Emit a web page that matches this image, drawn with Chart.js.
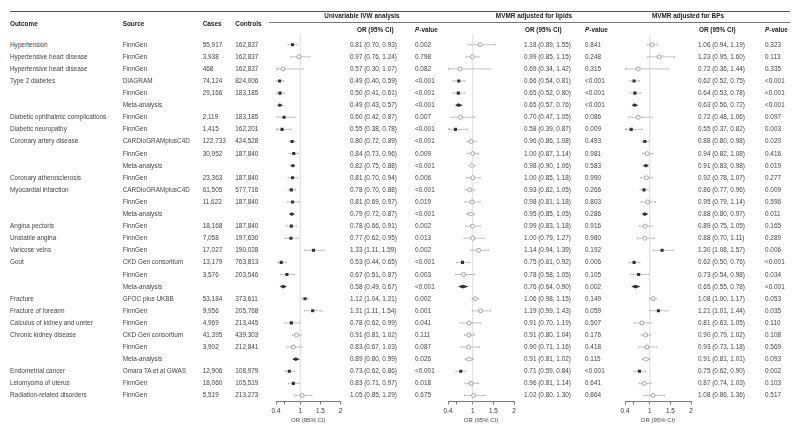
<!DOCTYPE html>
<html>
<head>
<meta charset="utf-8">
<script src="https://cdn.jsdelivr.net/npm/chart.js@4.4.1/dist/chart.umd.min.js"></script>
<style>
  body { margin: 0; background: #fff; }
  #wrap { position: relative; width: 800px; height: 433px; overflow: hidden;
          font-family: "Liberation Sans", Arial, sans-serif; color: #444; }
  .t { position: absolute; font-size: 6.4px; line-height: 8px; white-space: nowrap; }
  .h { font-weight: bold; color: #222; }
  .c { transform: translateX(-50%); }
  .rule { position: absolute; background: #555; }
  canvas { position: absolute; top: 0; }
</style>
</head>
<body>
<div id="wrap"></div>
<script>
// ---- data ----
const outcomes = ['Hypertension', 'Hypertensive heart disease', 'Hypertensive heart disease', 'Type 2 diabetes', '', '',
  'Diabetic ophthalmic complications', 'Diabetic neuropathy', 'Coronary artery disease', '', '',
  'Coronary atherosclerosis', 'Myocardial infarction', '', '', 'Angina pectoris', 'Unstable angina',
  'Varicose veins', 'Gout', '', '', 'Fracture', 'Fracture of forearm', 'Calculus of kidney and ureter',
  'Chronic kidney disease', '', '', 'Endometrial cancer', 'Leiomyoma of uterus', 'Radiation-related disorders'];
const sources = ['FinnGen', 'FinnGen', 'FinnGen', 'DIAGRAM', 'FinnGen', 'Meta-analysis',
  'FinnGen', 'FinnGen', 'CARDIoGRAMplusC4D', 'FinnGen', 'Meta-analysis',
  'FinnGen', 'CARDIoGRAMplusC4D', 'FinnGen', 'Meta-analysis', 'FinnGen', 'FinnGen',
  'FinnGen', 'CKD Gen consortium', 'FinnGen', 'Meta-analysis', 'GFOC plus UKBB', 'FinnGen', 'FinnGen',
  'CKD Gen consortium', 'FinnGen', 'Meta-analysis', 'Omara TA et al GWAS', 'FinnGen', 'FinnGen'];
const cases = ['55,917', '3,938', '468', '74,124', '29,166', '', '2,119', '1,415', '122,733', '30,952', '',
  '23,363', '61,505', '11,622', '', '18,168', '7,058', '17,027', '13,179', '3,576', '', '53,184', '9,956',
  '4,969', '41,395', '3,902', '', '12,906', '18,060', '5,519'];
const controls = ['162,837', '162,837', '162,837', '824,006', '183,185', '', '183,185', '162,201', '424,528',
  '187,840', '', '187,840', '577,716', '187,840', '', '187,840', '197,630', '190,028', '763,813', '203,546', '',
  '373,611', '205,768', '213,445', '439,303', '212,841', '', '108,979', '105,519', '213,273'];

const uniOR = [0.81, 0.97, 0.57, 0.49, 0.50, 0.49, 0.60, 0.55, 0.80, 0.84, 0.82, 0.81, 0.78, 0.81, 0.79,
  0.78, 0.77, 1.33, 0.53, 0.67, 0.58, 1.12, 1.31, 0.78, 0.91, 0.83, 0.89, 0.73, 0.83, 1.05];
const uniLo = [0.70, 0.76, 0.30, 0.40, 0.41, 0.43, 0.42, 0.38, 0.72, 0.73, 0.75, 0.70, 0.70, 0.69, 0.72,
  0.66, 0.62, 1.11, 0.44, 0.51, 0.49, 1.04, 1.11, 0.62, 0.81, 0.67, 0.80, 0.62, 0.71, 0.85];
const uniHi = [0.93, 1.24, 1.07, 0.59, 0.61, 0.57, 0.87, 0.78, 0.89, 0.96, 0.88, 0.94, 0.88, 0.97, 0.87,
  0.91, 0.95, 1.59, 0.65, 0.87, 0.67, 1.21, 1.54, 0.99, 1.02, 1.03, 0.99, 0.86, 0.97, 1.29];
const uniP = ['0.002', '0.798', '0.082', '<0.001', '<0.001', '<0.001', '0.007', '<0.001', '<0.001', '0.009',
  '<0.001', '0.006', '<0.001', '0.019', '<0.001', '0.002', '0.013', '0.002', '<0.001', '0.003', '<0.001',
  '0.002', '0.001', '0.041', '0.111', '0.087', '0.026', '<0.001', '0.018', '0.675'];

const lipOR = [1.18, 0.99, 0.69, 0.66, 0.65, 0.65, 0.70, 0.58, 0.96, 1.00, 0.98, 1.00, 0.93, 0.98, 0.95,
  0.99, 1.00, 1.14, 0.75, 0.78, 0.76, 1.06, 1.19, 0.91, 0.91, 0.90, 0.91, 0.71, 0.96, 1.02];
const lipLo = [0.89, 0.85, 0.34, 0.54, 0.52, 0.57, 0.47, 0.39, 0.86, 0.87, 0.90, 0.85, 0.82, 0.81, 0.85,
  0.83, 0.79, 0.94, 0.61, 0.58, 0.64, 0.98, 0.99, 0.70, 0.80, 0.71, 0.81, 0.59, 0.81, 0.80];
const lipHi = [1.55, 1.15, 1.42, 0.81, 0.80, 0.76, 1.05, 0.87, 1.08, 1.14, 1.06, 1.18, 1.05, 1.18, 1.05,
  1.18, 1.27, 1.39, 0.92, 1.05, 0.90, 1.15, 1.43, 1.19, 1.04, 1.16, 1.02, 0.84, 1.14, 1.30];
const lipP = ['0.841', '0.248', '0.315', '<0.001', '<0.001', '<0.001', '0.086', '0.009', '0.493', '0.981',
  '0.583', '0.990', '0.266', '0.803', '0.286', '0.916', '0.980', '0.192', '0.006', '0.105', '0.002',
  '0.149', '0.059', '0.507', '0.176', '0.418', '0.115', '<0.001', '0.641', '0.864'];

const bpOR = [1.06, 1.23, 0.72, 0.62, 0.64, 0.63, 0.72, 0.55, 0.88, 0.94, 0.91, 0.92, 0.86, 0.95, 0.88,
  0.89, 0.88, 1.30, 0.62, 0.73, 0.65, 1.08, 1.21, 0.81, 0.90, 0.93, 0.91, 0.75, 0.87, 1.08];
const bpLo = [0.94, 0.95, 0.36, 0.52, 0.53, 0.56, 0.48, 0.37, 0.80, 0.82, 0.83, 0.78, 0.77, 0.79, 0.80,
  0.75, 0.70, 1.08, 0.50, 0.54, 0.55, 1.00, 1.01, 0.63, 0.79, 0.73, 0.81, 0.62, 0.74, 0.86];
const bpHi = [1.19, 1.60, 1.44, 0.75, 0.78, 0.72, 1.06, 0.82, 0.98, 1.08, 0.98, 1.07, 0.96, 1.14, 0.97,
  1.05, 1.11, 1.57, 0.76, 0.98, 0.78, 1.17, 1.44, 1.05, 1.02, 1.18, 1.01, 0.90, 1.03, 1.36];
const bpP = ['0.323', '0.113', '0.335', '<0.001', '<0.001', '<0.001', '0.097', '0.003', '0.020', '0.416',
  '0.019', '0.277', '0.009', '0.596', '0.011', '0.165', '0.289', '0.006', '<0.001', '0.034', '<0.001',
  '0.053', '0.035', '0.110', '0.108', '0.569', '0.093', '0.002', '0.103', '0.517'];

const tickValues = [0.4, 0.6, 1, 1.5, 2];
const tickLabels = ['0.4', '', '1', '1.5', '2'];

// ---- layout ----
const FONT = '"Liberation Sans", Arial, sans-serif';
const ROW0 = 44.7, ROWH = 12.095;
const rowY = i => ROW0 + i * ROWH;
const isMeta = i => sources[i] === 'Meta-analysis';
const isSig = p => p.startsWith('<') || parseFloat(p) < 0.05;

const panels = [
  { title: 'Univariable IVW analysis', titleX: 362, left: 276, width: 64.5, orX: 350, orHdrX: 357, pX: 415,
    or: uniOR, lo: uniLo, hi: uniHi, p: uniP },
  { title: 'MVMR adjusted for lipids', titleX: 534, left: 448, width: 66, orX: 524, orHdrX: 525, pX: 585,
    or: lipOR, lo: lipLo, hi: lipHi, p: lipP },
  { title: 'MVMR adjusted for BPs', titleX: 688, left: 625, width: 66, orX: 698, orHdrX: 699, pX: 765,
    or: bpOR, lo: bpLo, hi: bpHi, p: bpP }
];

const wrap = document.getElementById('wrap');
function addText(txt, x, y, cls) {
  const d = document.createElement('div');
  d.className = 't' + (cls ? ' ' + cls : '');
  d.style.left = x + 'px';
  d.style.top = (y - 4) + 'px';
  d.innerHTML = txt;
  wrap.appendChild(d);
}
function addRule(x, y, w, h, color) {
  const d = document.createElement('div');
  d.className = 'rule';
  d.style.left = x + 'px'; d.style.top = y + 'px';
  d.style.width = w + 'px'; d.style.height = h + 'px';
  d.style.background = color;
  wrap.appendChild(d);
}

// header
addRule(10, 10.5, 780, 1.5, '#555');
addRule(269, 21.5, 521, 0.8, '#777');
addText('Outcome', 10, 24, 'h');
addText('Source', 122.7, 24, 'h');
addText('Cases', 202.7, 24, 'h');
addText('Controls', 235.3, 24, 'h');
panels.forEach(pn => {
  addText(pn.title, pn.titleX, 16, 'h c');
  addText('OR (95% CI)', pn.orHdrX, 29.5, 'h');
  addText('<i>P</i>-value', pn.pX, 29.5, 'h');
});

// table body
outcomes.forEach((o, i) => {
  const y = rowY(i);
  if (o) addText(o, 10, y);
  addText(sources[i], 122.7, y);
  if (cases[i]) addText(cases[i], 202.7, y);
  if (controls[i]) addText(controls[i], 235.3, y);
  panels.forEach(pn => {
    const f = v => v.toFixed(2);
    addText(`${f(pn.or[i])} (${f(pn.lo[i])}, ${f(pn.hi[i])})`, pn.orX, y);
    addText(pn.p[i], pn.pX, y);
  });
});

// whiskers, reference line and meta diamonds
const forestPlugin = {
  id: 'forest',
  beforeDatasetsDraw(chart) {
    const { ctx, chartArea, scales: { x, y } } = chart;
    const pn = chart.options.plugins.forest.panel;
    ctx.save();
    const x1 = x.getPixelForValue(1);
    ctx.strokeStyle = '#d2d2d2';
    ctx.lineWidth = 0.8;
    ctx.beginPath();
    ctx.moveTo(x1, chartArea.top - 4);
    ctx.lineTo(x1, chartArea.bottom);
    ctx.stroke();

    ctx.strokeStyle = '#b4b4b4';
    ctx.lineWidth = 0.8;
    pn.or.forEach((v, i) => {
      if (isMeta(i)) return;
      const yy = y.getPixelForValue(i);
      const xa = x.getPixelForValue(Math.max(pn.lo[i], x.min));
      const xb = x.getPixelForValue(Math.min(pn.hi[i], x.max));
      ctx.beginPath();
      ctx.moveTo(xa, yy); ctx.lineTo(xb, yy);
      if (pn.lo[i] >= x.min) { ctx.moveTo(xa, yy - 1); ctx.lineTo(xa, yy + 1); }
      else { ctx.moveTo(xa + 2, yy - 1.3); ctx.lineTo(xa, yy); ctx.lineTo(xa + 2, yy + 1.3); }
      ctx.moveTo(xb, yy - 1); ctx.lineTo(xb, yy + 1);
      ctx.stroke();
    });
    ctx.restore();
  },
  afterDatasetsDraw(chart) {
    const { ctx, scales: { x, y } } = chart;
    const pn = chart.options.plugins.forest.panel;
    ctx.save();
    pn.or.forEach((v, i) => {
      if (!isMeta(i)) return;
      const yy = y.getPixelForValue(i);
      const xa = x.getPixelForValue(pn.lo[i]);
      const xm = x.getPixelForValue(v);
      const xb = x.getPixelForValue(pn.hi[i]);
      ctx.beginPath();
      ctx.moveTo(xa, yy); ctx.lineTo(xm, yy - 1.9); ctx.lineTo(xb, yy); ctx.lineTo(xm, yy + 1.9);
      ctx.closePath();
      if (isSig(pn.p[i])) {
        ctx.fillStyle = '#333'; ctx.fill();
      } else {
        ctx.fillStyle = '#fff'; ctx.fill();
        ctx.strokeStyle = '#999'; ctx.lineWidth = 0.8; ctx.stroke();
      }
    });
    ctx.restore();
  }
};

const PAD = 10;
panels.forEach(pn => {
  const cv = document.createElement('canvas');
  const w = Math.round(pn.width + 2 * PAD);
  cv.width = w; cv.height = 433;
  cv.style.left = (pn.left - PAD) + 'px';
  cv.style.width = w + 'px'; cv.style.height = '433px';
  wrap.insertBefore(cv, wrap.firstChild);

  const sig = pn.p.map(isSig);
  new Chart(cv.getContext('2d'), {
    type: 'scatter',
    data: {
      datasets: [{
        data: pn.or.map((v, i) => ({ x: v, y: i })),
        pointStyle: c => sig[c.dataIndex] ? 'rect' : 'circle',
        pointRadius: c => isMeta(c.dataIndex) ? 0 : (sig[c.dataIndex] ? 2.2 : 2),
        backgroundColor: c => sig[c.dataIndex] ? '#333' : '#fff',
        borderColor: c => sig[c.dataIndex] ? '#333' : '#8c8c8c',
        borderWidth: c => sig[c.dataIndex] ? 0 : 0.8
      }]
    },
    options: {
      responsive: false,
      animation: false,
      devicePixelRatio: 1,
      events: [],
      layout: { padding: { left: PAD, right: w - PAD - pn.width, top: 38.66, bottom: 9.5 } },
      plugins: {
        legend: { display: false },
        tooltip: { enabled: false },
        forest: { panel: pn }
      },
      scales: {
        y: { type: 'linear', min: -0.5, max: 29.5, reverse: true, display: false },
        x: {
          type: 'linear', min: 0.4, max: 2,
          afterBuildTicks: s => { s.ticks = tickValues.map(v => ({ value: v })); },
          afterFit: s => { s.height = 22; },
          ticks: {
            autoSkip: false, maxRotation: 0, padding: 3, color: '#333',
            font: { size: 6.4, family: FONT },
            callback: (v, i) => tickLabels[i]
          },
          grid: { drawOnChartArea: false, drawTicks: true, tickLength: 3, color: '#555', lineWidth: 0.8 },
          border: { display: true, color: '#555', width: 0.8 },
          title: { display: true, text: 'OR (95% CI)', color: '#444',
                   font: { size: 6, family: FONT }, padding: { top: 1, bottom: 0 } }
        }
      }
    },
    plugins: [forestPlugin]
  });
});
</script>
</body>
</html>
